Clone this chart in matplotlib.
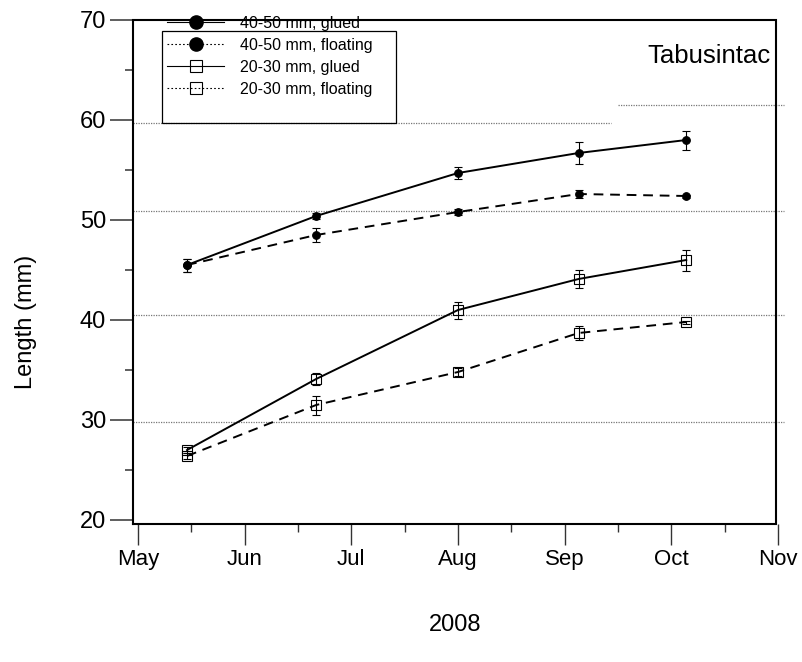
import matplotlib
matplotlib.use("Agg")
import matplotlib.pyplot as plt
from matplotlib.lines import Line2D
from matplotlib.ticker import MultipleLocator, FixedLocator, FixedFormatter

plt.rcParams['font.family'] = ['Liberation Sans', 'DejaVu Sans']

# sampling dates, as months after 1 May 2008
sample_month = [0.46, 1.67, 3.0, 4.13, 5.14]
month_labels = ["May", "Jun", "Jul", "Aug", "Sep", "Oct", "Nov"]

# mean length (mm) and error bars
big_glued = [45.5, 50.4, 54.7, 56.7, 58.0]
big_glued_err = [0.65, 0.3, 0.6, 1.1, 0.95]
big_float = [45.5, 48.5, 50.8, 52.6, 52.4]
big_float_err = [0.65, 0.7, 0.3, 0.4, 0.15]
small_glued = [27.0, 34.1, 41.0, 44.1, 46.0]
small_glued_err = [0.3, 0.6, 0.85, 0.9, 1.05]
small_float = [26.4, 31.5, 34.8, 38.7, 39.8]
small_float_err = [0.3, 0.95, 0.4, 0.7, 0.15]

# stray dotted reference lines: (level, x start, x end)
ref_lines = [(59.7, -0.047, 4.43), (61.5, 4.5, 6.06),
             (50.9, -0.047, 6.06), (40.5, -0.047, 6.06),
             (29.8, -0.047, 6.06)]

fig = plt.figure(figsize=(8.03, 6.62), dpi=100)
ax = fig.add_axes([138 / 803, 1 - 520 / 662, 640 / 803, 500 / 662])

for level, x0, x1 in ref_lines:
    ax.hlines(level, x0, x1, colors="#777777", linestyles=(0, (1, 1)),
              linewidth=0.9, clip_on=False, zorder=1)

series = [
    (big_glued, big_glued_err, "-", "o", "k"),
    (big_float, big_float_err, (0, (5, 3.5)), "o", "k"),
    (small_glued, small_glued_err, "-", "s", "none"),
    (small_float, small_float_err, (0, (5, 3.5)), "s", "none"),
]
for vals, err, ls, mk, fc in series:
    ax.errorbar(sample_month, vals, yerr=err, fmt="none", ecolor="k",
                elinewidth=0.8, capsize=3, capthick=0.8, zorder=2)
    ax.plot(sample_month, vals, color="k", linestyle=ls, linewidth=1.4,
            marker=mk, markersize=5.5 if mk == "o" else 6.5,
            markerfacecolor=fc, markeredgecolor="k", markeredgewidth=0.8,
            zorder=3)

ax.set_xlim(0, 6)
ax.set_ylim(20, 70)

# detached box around the plot
for sp in ax.spines.values():
    sp.set_visible(False)
ax.spines["left"].set_position(("outward", 3.6))
ax.spines["bottom"].set_position(("outward", 2.9))
bx0, bx1, by0, by1 = -5 / 640, 638 / 640, -4 / 500, 1.0
ax.add_line(Line2D([bx0, bx1, bx1, bx0, bx0], [by0, by0, by1, by1, by0],
                   transform=ax.transAxes, color="k", linewidth=1.5,
                   clip_on=False, solid_joinstyle="miter"))

ax.xaxis.set_major_locator(FixedLocator(range(len(month_labels))))
ax.xaxis.set_major_formatter(FixedFormatter(month_labels))
ax.xaxis.set_minor_locator(MultipleLocator(1, offset=0.5))
ax.yaxis.set_major_locator(MultipleLocator(10))
ax.yaxis.set_minor_locator(MultipleLocator(5))

ax.tick_params(axis="y", which="major", length=16.5, width=1.1,
               labelsize=17, pad=3, color="#333333")
ax.tick_params(axis="y", which="minor", length=6, width=1.1, color="#333333")
ax.tick_params(axis="x", which="major", length=15, width=1.0,
               labelsize=16, pad=3, color="#333333")
ax.tick_params(axis="x", which="minor", length=6, width=1.0, color="#333333")

ax.text(0.989, 0.914, "Tabusintac", transform=ax.transAxes, ha="right",
        va="baseline", fontsize=18.5)

fig.text(0.033, 0.514, "Length (mm)", rotation=90, ha="center",
         va="center", fontsize=17)
fig.text(0.567, 0.056, "2008", ha="center", va="center", fontsize=17)

# legend, with the frame drawn a bit lower than the entries
handles = [
    Line2D([], [], color="k", lw=0.8, ls="-", marker="o", markersize=9.5,
           markerfacecolor="k"),
    Line2D([], [], color="k", lw=0.8, ls=(0, (1.5, 2)), marker="o",
           markersize=9.5, markerfacecolor="k"),
    Line2D([], [], color="k", lw=0.8, ls="-", marker="s", markersize=8,
           markerfacecolor="none", markeredgewidth=0.8),
    Line2D([], [], color="k", lw=0.8, ls=(0, (1.5, 2)), marker="s",
           markersize=8, markerfacecolor="none", markeredgewidth=0.8),
]
labels = ["40-50 mm, glued", "40-50 mm, floating",
          "20-30 mm, glued", "20-30 mm, floating"]
fig.legend(handles, labels, loc="upper left",
           bbox_to_anchor=(167 / 803, 1 - 16 / 662), frameon=False,
           fontsize=11.5, handlelength=3.6, handletextpad=0.95,
           labelspacing=0.44, borderpad=0, borderaxespad=0)
fig.add_artist(plt.Rectangle((162 / 803, 1 - 123 / 662), 234 / 803,
                             92 / 662, transform=fig.transFigure,
                             fill=False, edgecolor="k", linewidth=0.9))

fig.savefig("out.png", dpi=100)
